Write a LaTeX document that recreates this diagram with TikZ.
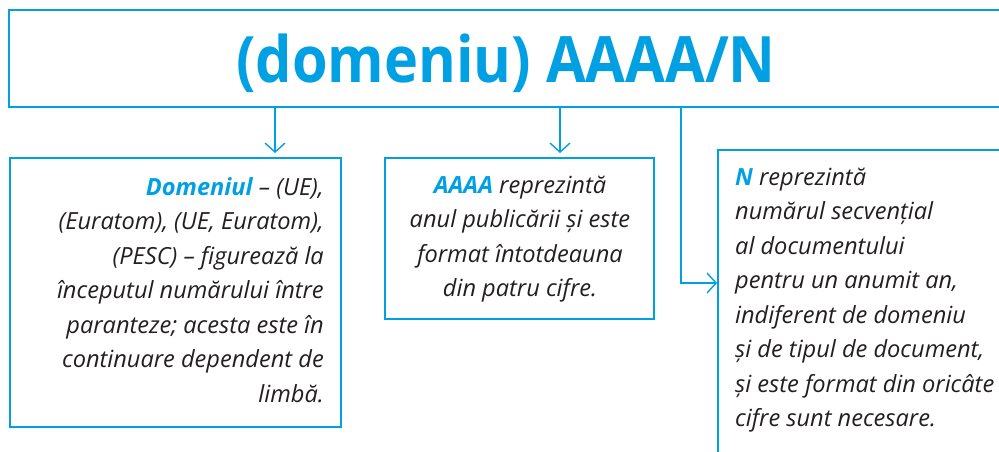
\documentclass[tikz,border=0pt]{standalone}
\usepackage{fontspec}
\setmainfont{Open Sans}
\newfontfamily\titlefont[FakeStretch=0.9]{Open Sans}
\usetikzlibrary{arrows.meta}
\definecolor{cy}{RGB}{0,160,227}
\definecolor{ink}{RGB}{35,31,32}
\begin{document}
\begin{tikzpicture}[x=1pt,y=-1pt,
  frame/.style={draw=cy,line width=1.8pt,inner sep=0pt,outer sep=0pt,anchor=north west},
  body/.style={font=\fontsize{23.6}{34.5}\selectfont\itshape, text=ink, inner sep=0pt},
  arr/.style={draw=cy,line width=1.4pt,-{Straight Barb[length=9pt,width=20pt,line width=1.4pt]}},
  ]
\useasboundingbox (0,0) rectangle (999,452);
\node[frame, minimum width=1001pt, minimum height=97pt] (top) at (9,10) {};
\node[font=\titlefont\fontsize{64}{64}\selectfont\bfseries, text=cy, anchor=base, inner sep=0pt] (title) at (506,83) {(domeniu) AAAA/N};
\node[frame, minimum width=331pt, minimum height=269pt] (b1) at (10,158) {};
\node[frame, minimum width=269pt, minimum height=161pt] (b2) at (385,158) {};
\node[frame, minimum width=300pt, minimum height=330pt] (b3) at (718,150) {};
\newcommand\hlt[1]{\textcolor{cy}{\bfseries #1}}
\node[body, align=right, anchor=base east] (t1) at (324,402)
  {\hlt{Domeniul} – (UE),\\(Euratom), (UE, Euratom),\\(PESC) – figurează la\\începutul numărului între\\paranteze; acesta este în\\continuare dependent de\\limbă.};
\node[body, align=center, anchor=base] (t2) at (520,296.5)
  {\hlt{AAAA} reprezintă\\anul publicării și este\\format întotdeauna\\din patru cifre.};
\node[body, align=left, anchor=base west] (t3) at (735,426.5)
  {\hlt{N} reprezintă\\numărul secvențial\\al documentului\\pentru un anumit an,\\indiferent de domeniu\\și de tipul de document,\\și este format din oricâte\\cifre sunt necesare.};
\coordinate (c1) at (275,0);
\coordinate (c2) at (560,0);
\coordinate (c3) at (681,283);
\draw[arr, shorten >=5pt] (c1 |- top.south) -- (c1 |- b1.north);
\draw[arr, shorten >=5pt] (c2 |- top.south) -- (c2 |- b2.north);
\draw[arr, shorten >=1pt] (c3 |- top.south) |- (c3 -| b3.west);
\end{tikzpicture}
\end{document}
